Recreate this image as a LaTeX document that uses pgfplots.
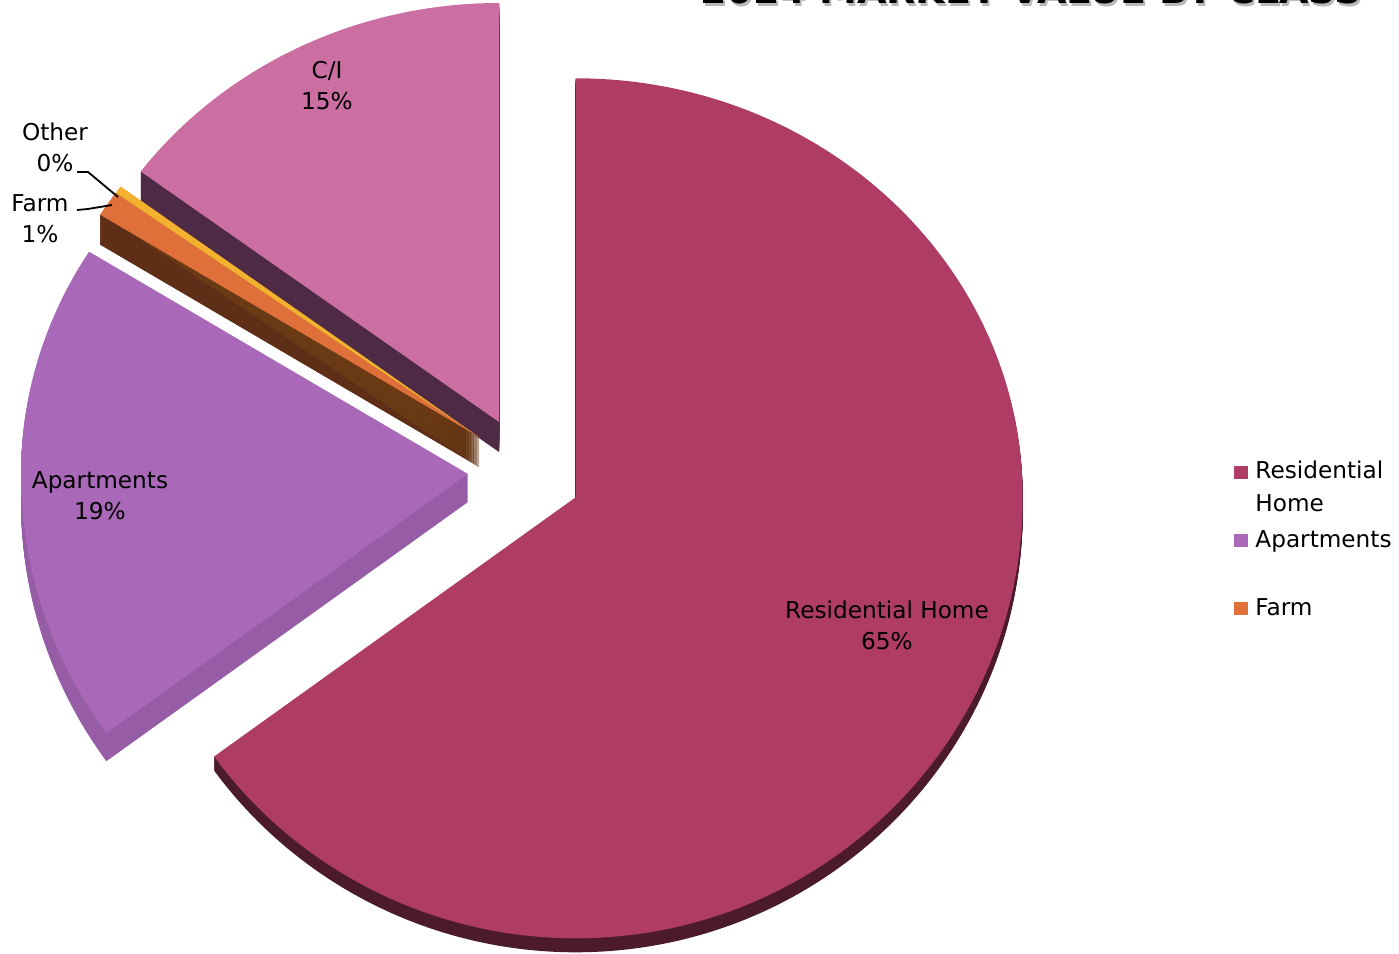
\documentclass[border=0pt]{standalone}
\usepackage{pgfplots}
\pgfplotsset{compat=1.18}
\usepackage{pgfplotstable}
\usepackage{fontspec}
\setmainfont{DejaVu Sans}

\definecolor{resTop}{HTML}{AE3C65}
\definecolor{resSide}{HTML}{4C1A2D}
\definecolor{aptTop}{HTML}{A968B8}
\definecolor{aptSide}{HTML}{965CA5}
\definecolor{farmTop}{HTML}{DF7039}
\definecolor{farmSide}{HTML}{5E2E16}
\definecolor{othTop}{HTML}{F2B12E}
\definecolor{othSide}{HTML}{6A3A14}
\definecolor{ciTop}{HTML}{CB6EA2}
\definecolor{ciSide}{HTML}{4E2A44}

% value = share in percent; dx,dy = explosion offset; depth = visible side
\pgfplotstableread[col sep=comma]{
label,value,dx,dy,depth,top,side
Residential Home,65.0,0,0,14,resTop,resSide
Apartments,18.9,-107.7,23.3,28,aptTop,aptSide
Farm,1.0,-96.7,60.3,30,farmTop,farmSide
Other,0.3,-96.7,60.3,30,othTop,othSide
C/I,14.8,-76.7,75.3,30,ciTop,ciSide
}\piedata
\pgfplotstablecreatecol[create col/expr accum={\pgfmathaccuma+\thisrow{value}}{0}]{cum}{\piedata}

\newcommand\getslice[1]{%
  \pgfplotstablegetelem{#1}{value}\of\piedata\let\sval\pgfplotsretval
  \pgfplotstablegetelem{#1}{cum}\of\piedata\let\scum\pgfplotsretval
  \pgfplotstablegetelem{#1}{dx}\of\piedata\let\sdx\pgfplotsretval
  \pgfplotstablegetelem{#1}{dy}\of\piedata\let\sdy\pgfplotsretval
  \pgfplotstablegetelem{#1}{depth}\of\piedata\let\sdepth\pgfplotsretval
  \pgfplotstablegetelem{#1}{top}\of\piedata\let\ctop\pgfplotsretval
  \pgfplotstablegetelem{#1}{side}\of\piedata\let\cside\pgfplotsretval
  \pgfmathsetmacro\aA{90-3.6*(\scum-\sval)}%
  \pgfmathsetmacro\aD{90-3.6*\scum}%
  \pgfmathsetmacro\aB{max(min(\aA,0),\aD)}%
  \pgfmathsetmacro\aC{max(min(\aA,-180),\aD)}%
}
\newcommand\slicefill[2]{%
  \pgfmathsetmacro\vx{575.7+\sdx}%
  \pgfmathsetmacro\vy{456.7+\sdy-#2}%
  \pgfmathsetmacro\ry{sin(\aA)>=0 ? 419 : 441}%
  \pgfmathsetmacro\px{\vx+447*cos(\aA)}%
  \pgfmathsetmacro\py{\vy+\ry*sin(\aA)}%
  \fill[#1] (axis cs:\vx,\vy) -- (axis cs:\px,\py)
    arc[start angle=\aA, end angle=\aB, x radius=223.5pt, y radius=209.5pt]
    arc[start angle=\aB, end angle=\aC, x radius=223.5pt, y radius=220.5pt]
    arc[start angle=\aC, end angle=\aD, x radius=223.5pt, y radius=209.5pt]
    -- cycle;
}

\begin{document}
\begin{tikzpicture}
\begin{axis}[name=ax, x=0.5pt, y=0.5pt, xmin=0, xmax=1399, ymin=0, ymax=954,
  hide axis, clip=false]
\pgfplotsextra{%
  \pgfplotstablegetrowsof{\piedata}%
  \pgfmathtruncatemacro\lastrow{\pgfplotsretval-1}%
  \foreach \i in {0,...,\lastrow}{%
    \getslice{\i}%
    \foreach \t in {1,...,\sdepth}{\slicefill{\cside}{\t}}%
  }%
  \foreach \i in {0,...,\lastrow}{%
    \getslice{\i}%
    \slicefill{\ctop}{0}%
  }%
}
% data labels
\begin{scope}[every node/.style={font=\fontsize{11.6}{15.5}\selectfont, align=center, text=black}]
\node at (axis cs:327,868.5) {C/I\\15\%};
\node at (axis cs:55,806.5) {Other\\0\%};
\node at (axis cs:40,735.5) {Farm\\1\%};
\node at (axis cs:100,458) {Apartments\\19\%};
\node at (axis cs:887,328.5) {Residential Home\\65\%};
\end{scope}
\draw[black, line width=0.9pt] (axis cs:77,782) -- (axis cs:88,782) -- (axis cs:118,757);
\draw[black, line width=0.9pt] (axis cs:77,744) -- (axis cs:88,745) -- (axis cs:112,749);
% legend
\fill[resTop] (axis cs:1234,475) rectangle (axis cs:1248,488);
\fill[aptTop] (axis cs:1234,407) rectangle (axis cs:1248,420);
\fill[farmTop] (axis cs:1234,339) rectangle (axis cs:1248,352);
\begin{scope}[every node/.style={font=\fontsize{11.6}{15.5}\selectfont, anchor=base west, inner sep=0pt}]
\node at (axis cs:1255,475) {Residential};
\node at (axis cs:1255,442) {Home};
\node at (axis cs:1255,406) {Apartments};
\node at (axis cs:1255,338) {Farm};
\end{scope}
% title (cut off at the top edge, as in the reference)
\node[anchor=base, font=\bfseries\fontsize{19}{21}\selectfont, text=gray!55, inner sep=0pt] at (axis cs:1033,947) {2024 MARKET VALUE BY CLASS};
\node[anchor=base, font=\bfseries\fontsize{19}{21}\selectfont, text=black, inner sep=0pt] at (axis cs:1031,950) {2024 MARKET VALUE BY CLASS};
\end{axis}
\pgfresetboundingbox
\path[use as bounding box] (ax.south west) rectangle (ax.north east);
\end{tikzpicture}
\end{document}
